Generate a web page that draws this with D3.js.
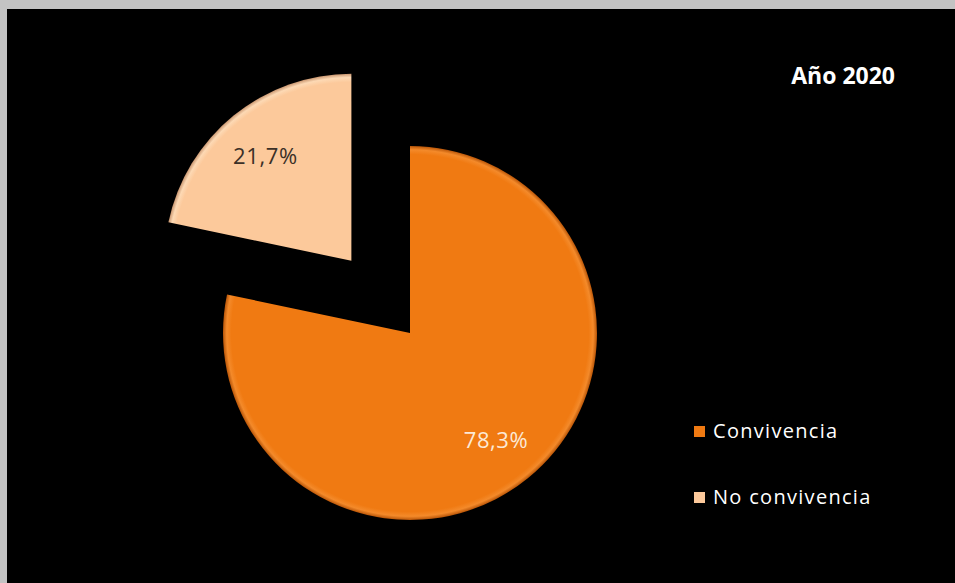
<!DOCTYPE html>
<html>
<head>
<meta charset="utf-8">
<script src="https://cdn.jsdelivr.net/npm/d3@7"></script>
<style>
  html, body { margin: 0; padding: 0; background: #c0c0c0; }
  svg { display: block; }
</style>
</head>
<body>
<svg id="chart" width="955" height="583"></svg>
<script>
// ---- data ----
const categories = ["Convivencia", "No convivencia"];
const values = [78.3, 21.7];
const colors = ["#F07A12", "#FCC99B"];
const labelColors = ["#FCE9D6", "#3b3027"];
const title = "Año 2020";

const W = 955, H = 583;
const svg = d3.select("#chart");

// gray frame + black plot background
svg.append("rect").attr("x", 0).attr("y", 0).attr("width", W).attr("height", H).attr("fill", "#c3c3c3");
svg.append("rect").attr("x", 7).attr("y", 9).attr("width", W - 7).attr("height", H - 9).attr("fill", "#000");

const cx = 410, cy = 333, R = 187, explode = 93;

const defs = svg.append("defs");
// bevel-like rim gradients
function rimGrad(id, base, light, dark) {
  const g = defs.append("radialGradient").attr("id", id)
    .attr("gradientUnits", "userSpaceOnUse")
    .attr("cx", 0).attr("cy", 0).attr("r", R);
  g.append("stop").attr("offset", "0%").attr("stop-color", base);
  g.append("stop").attr("offset", "95.5%").attr("stop-color", base);
  g.append("stop").attr("offset", "98%").attr("stop-color", light);
  g.append("stop").attr("offset", "100%").attr("stop-color", dark);
}
rimGrad("g0", "#F07A12", "#F48A2A", "#B85508");
rimGrad("g1", "#FCC99B", "#FDD9B4", "#C99670");

const pie = d3.pie().sort(null).startAngle(0).endAngle(2 * Math.PI);
const arcs = pie(values);
const arc = d3.arc().innerRadius(0).outerRadius(R);
const labelArc = d3.arc().innerRadius(R * 0.73).outerRadius(R * 0.73);

const gPie = svg.append("g").attr("transform", `translate(${cx},${cy})`);

const slices = gPie.selectAll("g.slice").data(arcs).enter().append("g")
  .attr("class", "slice")
  .attr("transform", (d, i) => {
    if (i === 1) {
      const a = (d.startAngle + d.endAngle) / 2;
      return `translate(${Math.sin(a) * explode},${-Math.cos(a) * explode})`;
    }
    return null;
  });

slices.append("path")
  .attr("d", arc)
  .attr("fill", (d, i) => `url(#g${i})`);

slices.append("text")
  .attr("transform", d => `translate(${labelArc.centroid(d)})`)
  .attr("text-anchor", "middle")
  .attr("dominant-baseline", "central")
  .attr("font-family", "'Open Sans', 'DejaVu Sans', sans-serif")
  .attr("font-size", 22)
  .attr("letter-spacing", 0.6)
  .attr("fill", (d, i) => labelColors[i])
  .text(d => d3.format(".1f")(d.data).replace(".", ",") + "%");

// title
svg.append("text")
  .attr("x", 895).attr("y", 84)
  .attr("text-anchor", "end")
  .attr("font-family", "'Open Sans', 'DejaVu Sans', sans-serif")
  .attr("font-weight", "bold")
  .attr("font-size", 23)
  .attr("fill", "#fff")
  .text(title);

// legend
const legend = svg.append("g").attr("transform", "translate(694,426)");
const li = legend.selectAll("g").data(categories).enter().append("g")
  .attr("transform", (d, i) => `translate(0,${i * 66})`);
li.append("rect").attr("x", 0).attr("y", 0).attr("width", 11).attr("height", 11)
  .attr("fill", (d, i) => colors[i]);
li.append("text")
  .attr("x", 19).attr("y", 12)
  .attr("font-family", "'Open Sans', 'DejaVu Sans', sans-serif")
  .attr("font-size", 20)
  .attr("letter-spacing", 1.3)
  .attr("fill", "#fff")
  .text(d => d);
</script>
</body>
</html>
